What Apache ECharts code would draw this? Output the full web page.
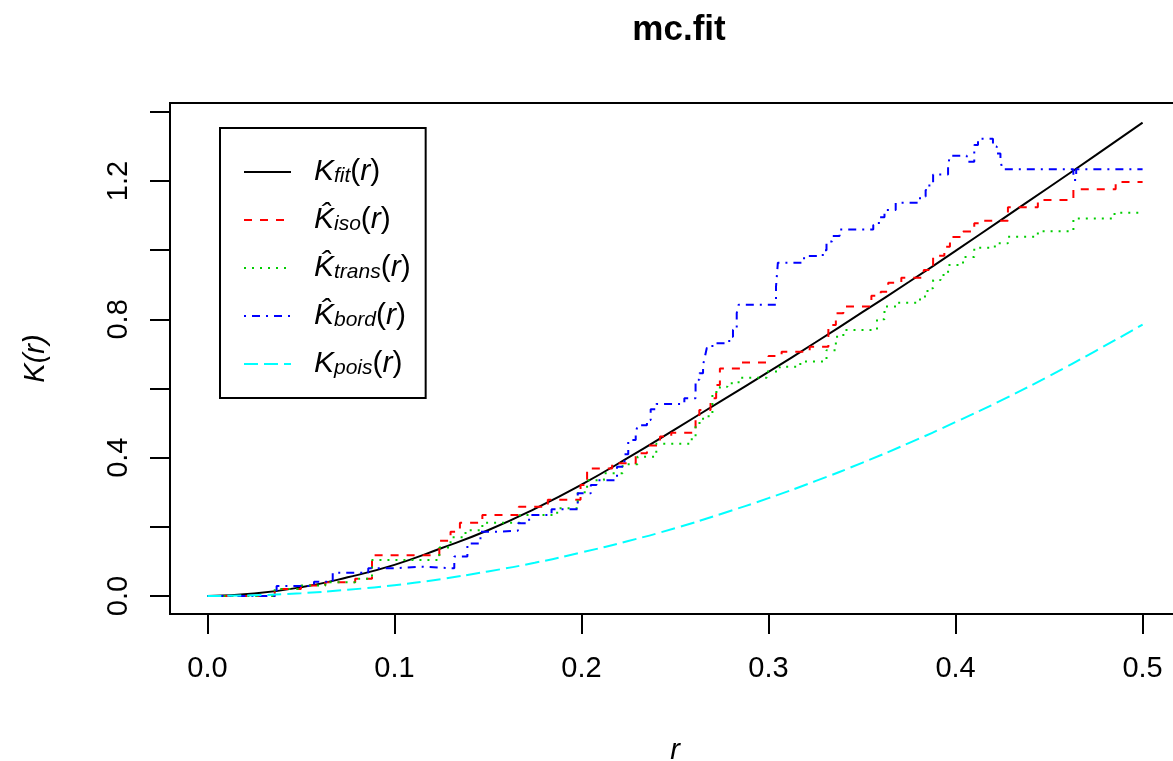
<!DOCTYPE html>
<html>
<head>
<meta charset="utf-8">
<script src="https://cdn.jsdelivr.net/npm/echarts@6/dist/echarts.min.js"></script>
<style>
html,body{margin:0;padding:0;background:#fff;}
#chart{width:1173px;height:761px;}
</style>
</head>
<body>
<div id="chart"></div>
<script>
// r grid for the smooth curves
const rGrid=[0,0.025,0.05,0.075,0.1,0.125,0.15,0.175,0.2,0.225,0.25,0.275,0.3,0.325,0.35,0.375,0.4,0.425,0.45,0.475,0.5];
const fitK=[0,0.007,0.025,0.054,0.090,0.138,0.19,0.252,0.322,0.400,0.482,0.565,0.648,0.733,0.820,0.908,0.998,1.09,1.182,1.275,1.369];
const poisK=[0,0.002,0.008,0.018,0.031,0.049,0.071,0.096,0.126,0.159,0.196,0.238,0.283,0.332,0.385,0.442,0.503,0.567,0.636,0.709,0.785];

// step estimates [r, K] (value holds from r to next r)
const isoSteps=[[0,0],[0.036,0.02],[0.05,0.03],[0.063,0.04],[0.079,0.05],[0.088,0.118],[0.124,0.16],[0.13,0.186],[0.135,0.212],[0.147,0.234],[0.1665,0.258],[0.182,0.278],[0.1995,0.321],[0.203,0.369],[0.2164,0.384],[0.229,0.413],[0.235,0.435],[0.242,0.461],[0.248,0.472],[0.261,0.509],[0.263,0.538],[0.269,0.572],[0.272,0.61],[0.274,0.658],[0.285,0.675],[0.300,0.694],[0.307,0.706],[0.322,0.721],[0.332,0.784],[0.336,0.818],[0.340,0.837],[0.355,0.868],[0.360,0.880],[0.364,0.906],[0.371,0.920],[0.383,0.943],[0.388,0.984],[0.394,1.010],[0.397,1.038],[0.404,1.054],[0.41,1.078],[0.413,1.085],[0.428,1.124],[0.444,1.145],[0.463,1.176],[0.4856,1.197],[0.5,1.197]];
const transSteps=[[0,0],[0.036,0.02],[0.05,0.03],[0.063,0.04],[0.079,0.05],[0.088,0.104],[0.124,0.14],[0.13,0.17],[0.138,0.19],[0.147,0.212],[0.167,0.234],[0.187,0.254],[0.198,0.30],[0.203,0.335],[0.212,0.355],[0.222,0.381],[0.230,0.403],[0.240,0.44],[0.258,0.453],[0.261,0.50],[0.265,0.52],[0.27,0.59],[0.274,0.605],[0.278,0.615],[0.284,0.631],[0.299,0.649],[0.306,0.663],[0.317,0.678],[0.331,0.711],[0.336,0.750],[0.340,0.769],[0.358,0.80],[0.362,0.837],[0.369,0.848],[0.381,0.866],[0.385,0.89],[0.388,0.914],[0.392,0.928],[0.396,0.957],[0.404,0.98],[0.41,1.007],[0.421,1.02],[0.428,1.039],[0.444,1.055],[0.463,1.092],[0.485,1.108],[0.5,1.108]];
const bordSteps=[[0,0],[0.037,0.029],[0.057,0.041],[0.067,0.067],[0.086,0.080],[0.1,0.085],[0.114,0.08],[0.132,0.114],[0.139,0.152],[0.146,0.186],[0.157,0.189],[0.166,0.21],[0.172,0.234],[0.184,0.251],[0.198,0.297],[0.205,0.321],[0.208,0.335],[0.219,0.374],[0.223,0.41],[0.225,0.451],[0.229,0.471],[0.230,0.494],[0.235,0.509],[0.237,0.54],[0.24,0.555],[0.255,0.572],[0.261,0.625],[0.263,0.644],[0.265,0.668],[0.266,0.692],[0.267,0.717],[0.27,0.731],[0.279,0.75],[0.281,0.77],[0.283,0.818],[0.284,0.842],[0.304,0.894],[0.305,0.964],[0.319,0.983],[0.329,1.0],[0.331,1.025],[0.334,1.041],[0.338,1.060],[0.356,1.073],[0.359,1.095],[0.362,1.116],[0.368,1.137],[0.381,1.155],[0.384,1.174],[0.386,1.193],[0.388,1.219],[0.396,1.246],[0.397,1.273],[0.406,1.256],[0.41,1.304],[0.412,1.322],[0.42,1.30],[0.422,1.28],[0.424,1.26],[0.425,1.234],[0.463,1.203],[0.4645,1.234],[0.5,1.234]];

const xTicks=[0,0.1,0.2,0.3,0.4,0.5];
const yTicks=[0,0.2,0.4,0.6,0.8,1.0,1.2,1.4];
const yLabels=[0,0.4,0.8,1.2];

const legendText={
  fit:'{k|K}{s|fit}{p|(}{k|r}{p|)}',
  iso:'{k|K\u0302}{s|iso}{p|(}{k|r}{p|)}',
  trans:'{k|K\u0302}{s|trans}{p|(}{k|r}{p|)}',
  bord:'{k|K\u0302}{s|bord}{p|(}{k|r}{p|)}',
  pois:'{k|K}{s|pois}{p|(}{k|r}{p|)}'
};

const font='Liberation Sans';
const chart=echarts.init(document.getElementById('chart'),null,{renderer:'canvas'});

const pairs=(xs,ys)=>xs.map((x,i)=>[x,ys[i]]);

const option={
  animation:false,
  backgroundColor:'#fff',
  title:{
    text:'mc.fit',
    left:674,
    top:8,
    textAlign:'center',
    textStyle:{fontFamily:font,fontWeight:'bold',fontSize:35,color:'#000'}
  },
  grid:{
    left:170,top:103,width:1010,height:511,
    outerBoundsMode:'none',containLabel:false,
    show:true,borderColor:'#000',borderWidth:2,backgroundColor:'transparent'
  },
  legend:{
    orient:'vertical',
    left:220,top:128,
    padding:[29,15,19,23],
    itemGap:18,
    itemWidth:47,
    itemHeight:14,
    borderColor:'#000',borderWidth:2,
    backgroundColor:'#fff',
    borderRadius:0,
    selectedMode:false,
    itemStyle:{opacity:0,borderWidth:0},
    formatter:name=>legendText[name],
    textStyle:{
      padding:[0,0,0,18],
      rich:{
        k:{fontFamily:font,fontStyle:'italic',fontSize:30,lineHeight:30,color:'#000'},
        p:{fontFamily:font,fontSize:30,lineHeight:30,color:'#000'},
        s:{fontFamily:font,fontStyle:'italic',fontSize:21,lineHeight:10,verticalAlign:'bottom',color:'#000'}
      }
    },
    data:['fit','iso','trans','bord','pois']
  },
  xAxis:{
    type:'value',min:-0.02,max:0.52,
    name:'r',nameLocation:'middle',nameGap:122,
    nameTextStyle:{fontFamily:font,fontStyle:'italic',fontSize:29,color:'#000'},
    axisLine:{show:false,onZero:false},
    splitLine:{show:false},
    axisTick:{show:true,customValues:xTicks,length:20,lineStyle:{color:'#000',width:2}},
    axisLabel:{customValues:xTicks,margin:40,fontFamily:font,fontSize:29,color:'#000',formatter:v=>v.toFixed(1)}
  },
  yAxis:{
    type:'value',min:-0.0521,max:1.4257,
    name:'K(r)',nameLocation:'middle',nameGap:120,nameRotate:90,
    nameTextStyle:{fontFamily:font,fontStyle:'italic',fontSize:29,color:'#000'},
    axisLine:{show:false,onZero:false},
    splitLine:{show:false},
    axisTick:{show:true,customValues:yTicks,length:20,lineStyle:{color:'#000',width:2}},
    axisLabel:{customValues:yLabels,rotate:90,margin:37,fontFamily:font,fontSize:29,color:'#000',formatter:v=>v.toFixed(1)}
  },
  series:[
    {name:'fit',type:'line',data:pairs(rGrid,fitK),smooth:true,symbol:'none',
     lineStyle:{color:'#000',width:2,type:'solid'},itemStyle:{color:'#000'}},
    {name:'iso',type:'line',data:isoSteps,step:'end',symbol:'none',
     lineStyle:{color:'#ff0000',width:2,type:[8,8]},itemStyle:{color:'#ff0000'}},
    {name:'trans',type:'line',data:transSteps,step:'end',symbol:'none',
     lineStyle:{color:'#00cd00',width:2,type:[2,6]},itemStyle:{color:'#00cd00'}},
    {name:'bord',type:'line',data:bordSteps,step:'end',symbol:'none',
     lineStyle:{color:'#0000ff',width:2,type:[2,6,8,6]},itemStyle:{color:'#0000ff'}},
    {name:'pois',type:'line',data:pairs(rGrid,poisK),smooth:true,symbol:'none',
     lineStyle:{color:'#00ffff',width:2,type:[14,6]},itemStyle:{color:'#00ffff'}}
  ]
};
chart.setOption(option);
</script>
</body>
</html>
